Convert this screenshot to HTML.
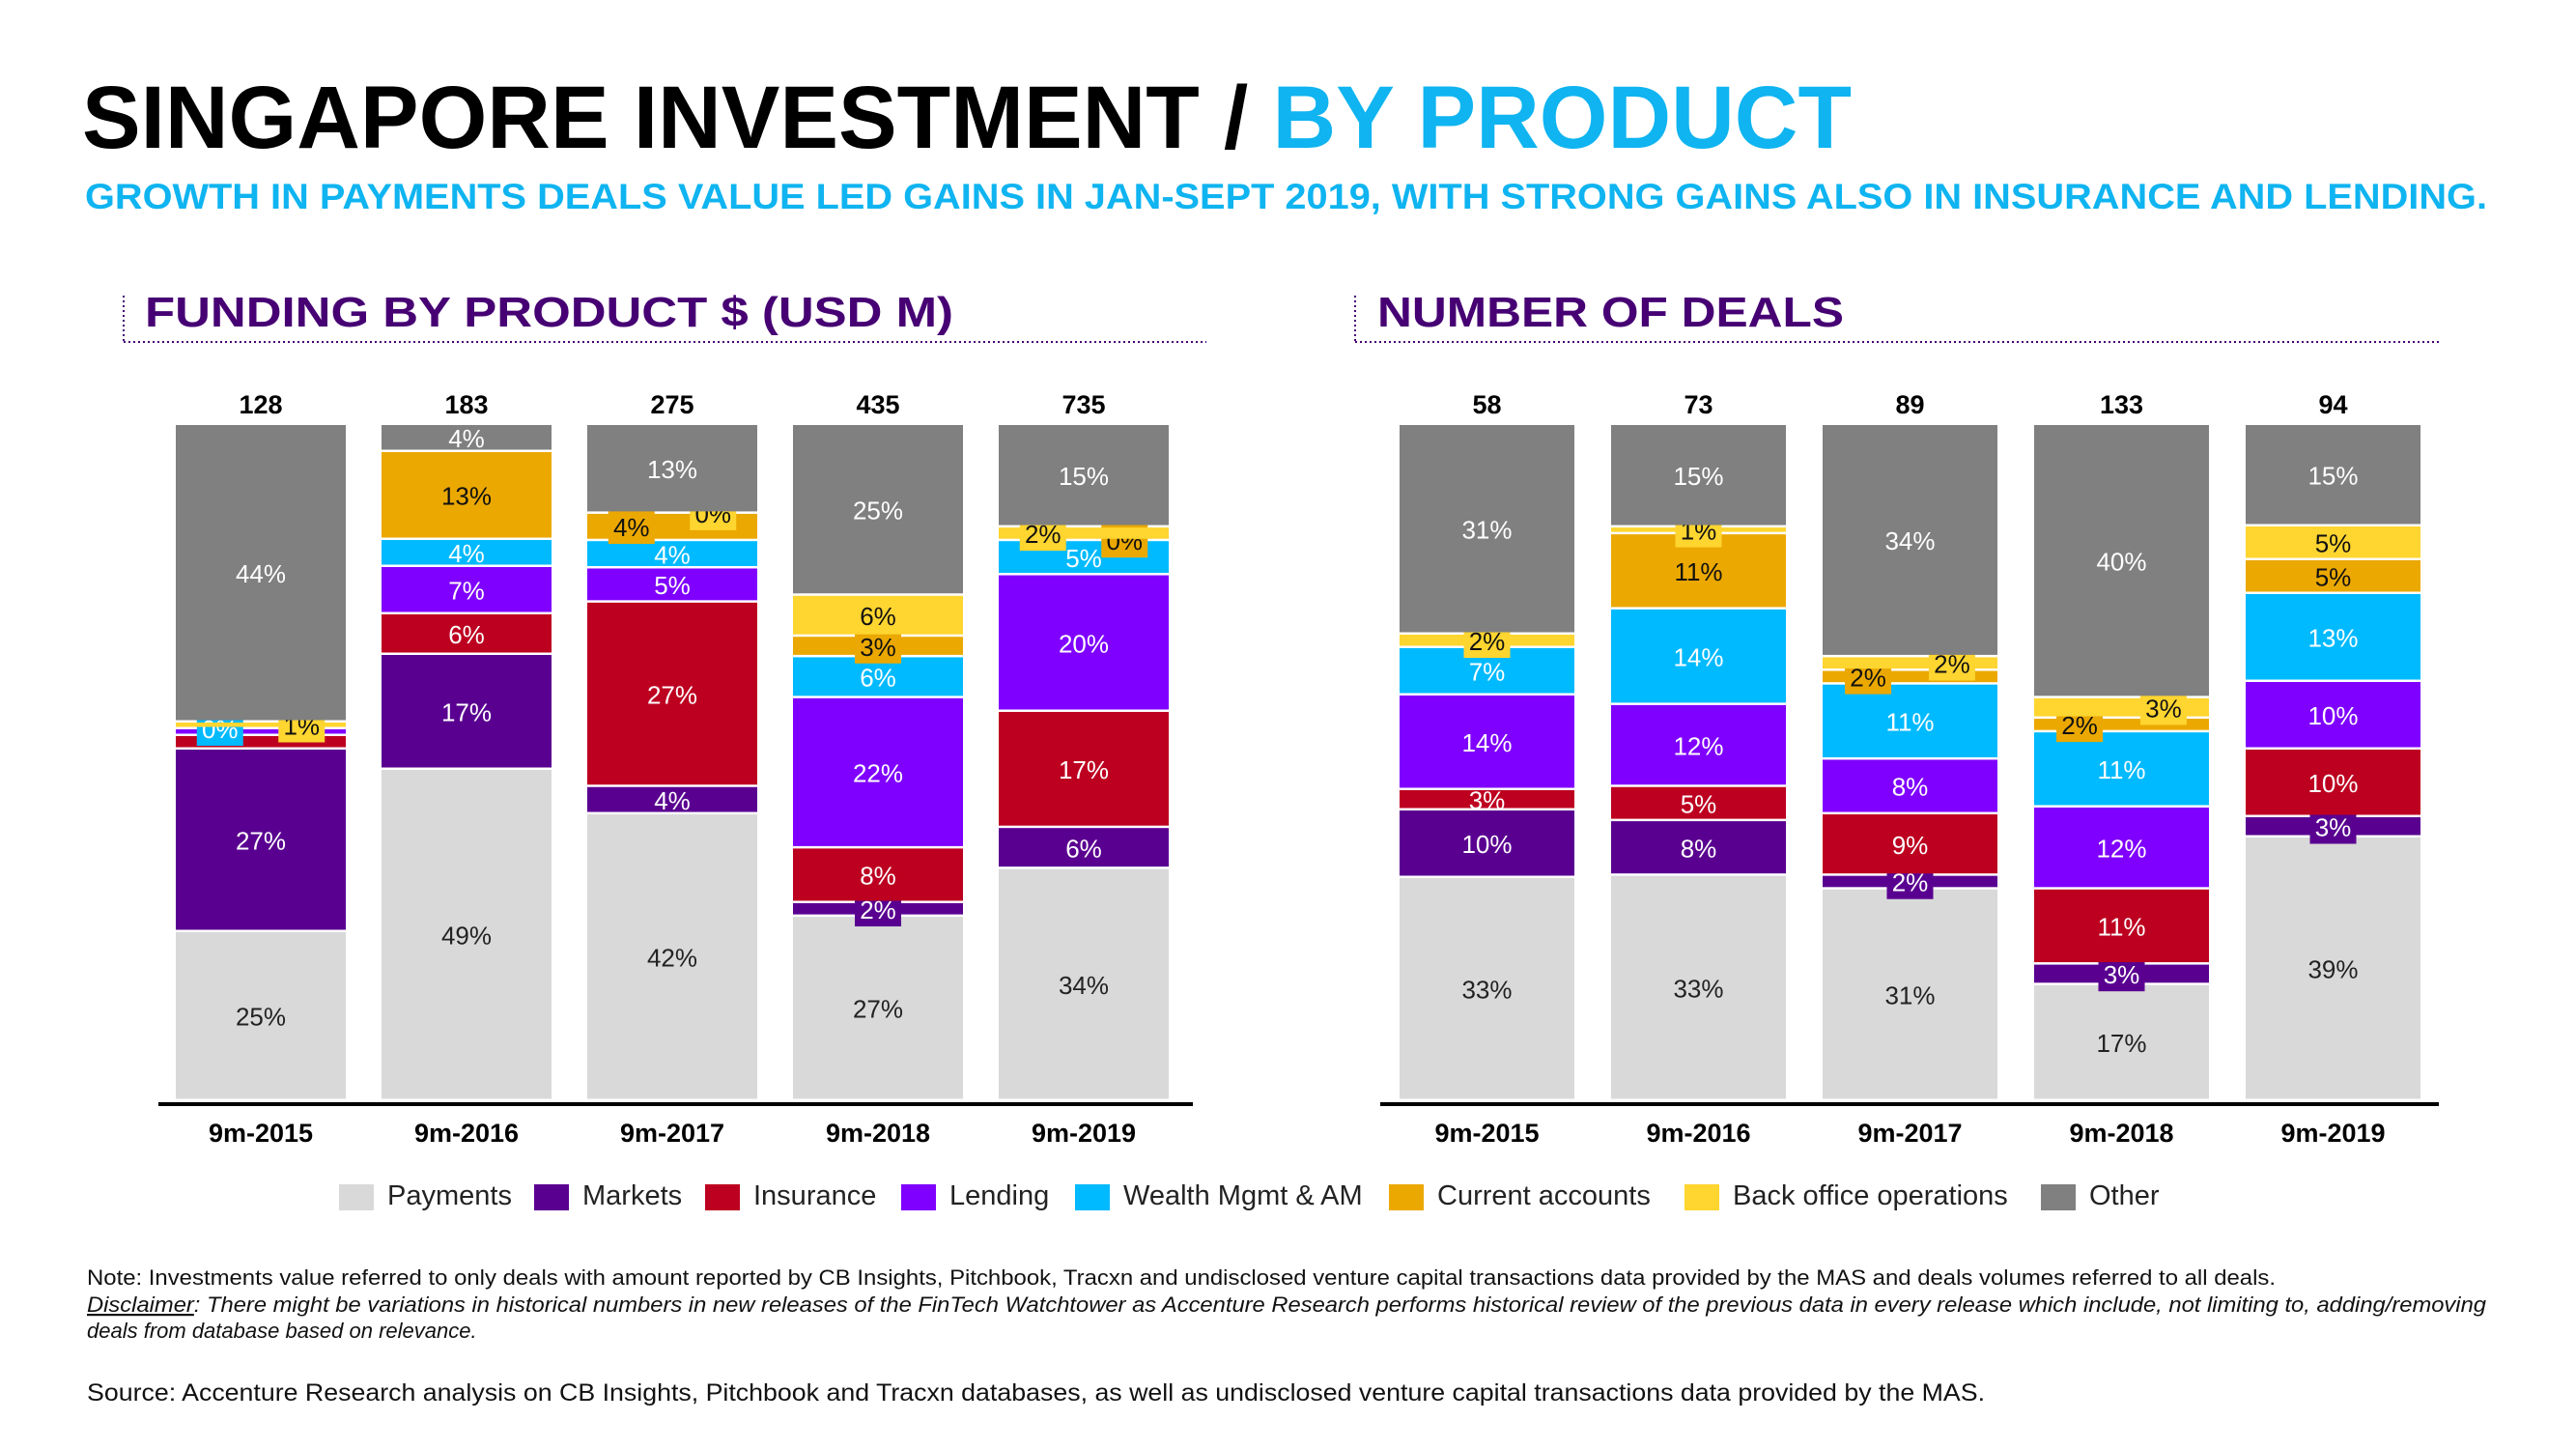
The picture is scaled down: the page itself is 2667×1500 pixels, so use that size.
<!DOCTYPE html>
<html><head><meta charset="utf-8"><style>
html,body{margin:0;padding:0;background:#fff}
svg{display:block;font-family:"Liberation Sans",sans-serif}
</style></head><body>
<svg id="root" width="2667" height="1500" viewBox="0 0 2667 1500" xmlns="http://www.w3.org/2000/svg">
<text x="85" y="153" font-size="92" font-weight="900" fill="#000" textLength="1832" lengthAdjust="spacingAndGlyphs">SINGAPORE INVESTMENT / <tspan fill="#0fb4f0">BY PRODUCT</tspan></text>
<text x="88" y="216" font-size="37" font-weight="700" fill="#0fb4f0" textLength="2487" lengthAdjust="spacingAndGlyphs">GROWTH IN PAYMENTS DEALS VALUE LED GAINS IN JAN-SEPT 2019, WITH STRONG GAINS ALSO IN INSURANCE AND LENDING.</text>

<g>
<line x1="128" y1="306" x2="128" y2="354" stroke="#460073" stroke-width="2" stroke-dasharray="2,3"/>
<line x1="128" y1="354" x2="1249" y2="354" stroke="#460073" stroke-width="2" stroke-dasharray="2,3"/>
<text x="150" y="338" font-size="44" font-weight="900" fill="#460073" textLength="837" lengthAdjust="spacingAndGlyphs">FUNDING BY PRODUCT $ (USD M)</text>
</g>
<g>
<line x1="1403" y1="306" x2="1403" y2="354" stroke="#460073" stroke-width="2" stroke-dasharray="2,3"/>
<line x1="1403" y1="354" x2="2526" y2="354" stroke="#460073" stroke-width="2" stroke-dasharray="2,3"/>
<text x="1426" y="338" font-size="44" font-weight="900" fill="#460073" textLength="483" lengthAdjust="spacingAndGlyphs">NUMBER OF DEALS</text>
</g>

<g id="charts"></g>
<g id="legend"></g>

<text x="90" y="1330" font-size="22" fill="#111" textLength="2266" lengthAdjust="spacingAndGlyphs">Note: Investments value referred to only deals with amount reported by CB Insights, Pitchbook, Tracxn and undisclosed venture capital transactions data provided by the MAS and deals volumes referred to all deals.</text>
<text x="90" y="1358" font-size="22" font-style="italic" fill="#111" textLength="2484" lengthAdjust="spacingAndGlyphs"><tspan text-decoration="underline">Disclaimer</tspan>: There might be variations in historical numbers in new releases of the FinTech Watchtower as Accenture Research performs historical review of the previous data in every release which include, not limiting to, adding/removing</text>
<text x="90" y="1385" font-size="22" font-style="italic" fill="#111">deals from database based on relevance.</text>
<text x="90" y="1450" font-size="25" fill="#111" textLength="1965" lengthAdjust="spacingAndGlyphs">Source: Accenture Research analysis on CB Insights, Pitchbook and Tracxn databases, as well as undisclosed venture capital transactions data provided by the MAS.</text>
</svg>
<script>
const categories = ["9m-2015","9m-2016","9m-2017","9m-2018","9m-2019"];
const seriesNames = ["Payments","Markets","Insurance","Lending","Wealth Mgmt & AM","Current accounts","Back office operations","Other"];
const fundingTotals = [128,183,275,435,735];
const fundPayments = [25,49,42,27,34];
const fundMarkets = [27,17,4,2,6];
const fundInsurance = [2,6,27,8,17];
const fundLending = [1,7,5,22,20];
const fundWealth = [0,4,4,6,5];
const fundCurrent = [0,13,4,3,0];
const fundBack = [1,0,0,6,2];
const fundOther = [44,4,13,25,15];
const dealTotals = [58,73,89,133,94];
const dealPayments = [33,33,31,17,39];
const dealMarkets = [10,8,2,3,3];
const dealInsurance = [3,5,9,11,10];
const dealLending = [14,12,8,12,10];
const dealWealth = [7,14,11,11,13];
const dealCurrent = [0,11,2,2,5];
const dealBack = [2,1,2,3,5];
const dealOther = [31,15,34,40,15];

const colors = ["#d9d9d9","#5a0091","#bd0020","#7f00ff","#00baff","#eba800","#ffd530","#808080"];
const txtCol = ["#222","#fff","#fff","#fff","#fff","#111","#111","#fff"];
const slug = ["payments","markets","insurance","lending","wealth","current","back-office","other"];
// label placement (style): key "chart-bar-series" -> H hidden, L left, R right, C centered boxed
const place = {
 "f-0-2":"H","f-0-3":"H","f-0-4":"L","f-0-5":"H","f-0-6":"R",
 "f-1-6":"H","f-2-5":"L","f-2-6":"R","f-3-1":"C","f-3-5":"C","f-4-6":"L","f-4-5":"R",
 "d-0-2":"N","d-0-5":"H","d-0-6":"C","d-1-6":"C","d-2-1":"C","d-2-5":"L","d-2-6":"R",
 "d-3-1":"C","d-3-5":"L","d-3-6":"R","d-4-1":"C"
};
const NS="http://www.w3.org/2000/svg";
const root=document.getElementById('charts');
function mk(tag,attrs,parent){const e=document.createElementNS(NS,tag);for(const k in attrs)e.setAttribute(k,attrs[k]);parent.appendChild(e);return e;}
const TOP=440, BOT=1140;
function yScale(frac){return BOT-frac*(BOT-TOP);}

function drawChart(key,series,totals,x0,pitch,bw,axisX1,axisX2,name){
  const g=mk('g',{},root);
  
  
  categories.forEach((cat,i)=>{
    const vals=series.map(s=>s[i]);
    const sum=vals.reduce((a,b)=>a+b,0);
    const bx=x0+i*pitch;
    let cum=0;
    vals.forEach((v,s)=>{
      const y1=yScale(cum/sum), y0=yScale((cum+v)/sum);
      cum+=v;
      if(v>0){
        const r=mk('rect',{x:bx,y:y0,width:bw,height:Math.max(0.5,y1-y0-2.5),fill:colors[s]},g);
        
        
      }
      const p=place[key+'-'+i+'-'+s];
      if(p==='H') return;
      if(v===0 && !p) return;
      const cy=(y0+y1)/2;
      let cx=bx+bw/2;
      if(p==='L') cx=bx+bw*0.26;
      if(p==='R') cx=bx+bw*0.74;
      if(p==='L'||p==='R'||p==='C'){
        const b=mk('rect',{x:cx-24,y:cy-17,width:48,height:34,fill:colors[s]},g);
        
        
      }
      const t=mk('text',{x:cx,y:cy+9,'font-size':26,'text-anchor':'middle',fill:txtCol[s]},g);
      
      
      t.textContent=v+'%';
    });
    const tt=mk('text',{x:bx+bw/2,y:428,'font-size':27,'font-weight':700,'text-anchor':'middle',fill:'#000'},g);
    
    
    tt.textContent=totals[i];
    const xl=mk('text',{x:bx+bw/2,y:1182,'font-size':27,'font-weight':700,'text-anchor':'middle',fill:'#000'},g);
    
    
    xl.textContent=cat;
  });
  const ax=mk('line',{x1:axisX1,x2:axisX2,y1:1143,y2:1143,stroke:'#000','stroke-width':4},g);
  
  
}
drawChart('f',[fundPayments,fundMarkets,fundInsurance,fundLending,fundWealth,fundCurrent,fundBack,fundOther],fundingTotals,182,213,176,164,1235,'funding-chart');
drawChart('d',[dealPayments,dealMarkets,dealInsurance,dealLending,dealWealth,dealCurrent,dealBack,dealOther],dealTotals,1449,219,181,1429,2525,'deals-chart');

const lg=document.getElementById('legend');
const lx=[351,553,730,933,1113,1438,1744,2113];
seriesNames.forEach((n,s)=>{
  const r=mk('rect',{x:lx[s],y:1226,width:36,height:27,fill:colors[s]},lg);
  
  
  const t=mk('text',{x:lx[s]+50,y:1247,'font-size':29,fill:'#222'},lg);
  
  
  t.textContent=n;
});
</script>
</body></html>
